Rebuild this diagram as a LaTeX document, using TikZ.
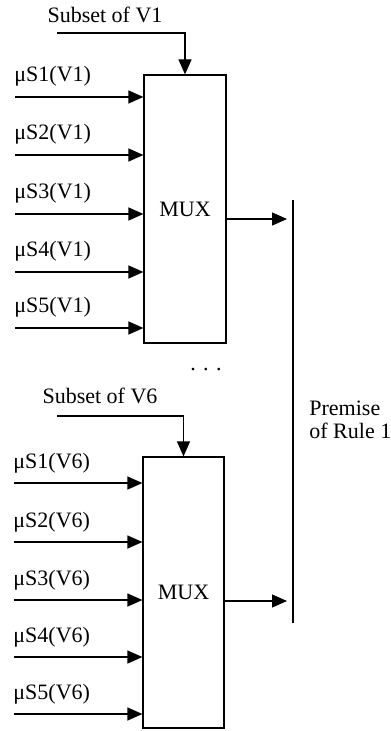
\documentclass[tikz,border=0pt]{standalone}
\usepackage{fontspec}
\setmainfont{Liberation Serif}
\usepackage{tikz}
\usetikzlibrary{arrows.meta,positioning}
\tikzset{
  muxbox/.style={draw,line width=0.6pt,inner sep=0pt,font=\fontsize{11}{11.5}\selectfont},
  lbl/.style={anchor=base west,inner sep=0pt,font=\fontsize{11}{11.5}\selectfont},
  ar/.style={-{Triangle[length=7.5pt,width=6.5pt]},line width=0.6pt},
}

\begin{document}
\begin{tikzpicture}[x=0.5pt,y=-0.5pt]
  \useasboundingbox (0,0) rectangle (390,731);
  % multiplexers
  \node[muxbox,minimum width=41pt,minimum height=134pt] (mux1) at (185,209) {MUX};
  \node[muxbox,minimum width=40.5pt,minimum height=135.5pt] (mux6) at (183.5,592.5) {MUX};
  % inputs of V1
  \foreach \i/\y in {1/97,2/155,3/214,4/272,5/328}{
    \node[lbl] (a\i) at (14,\y-15) {μS\i(V1)};
    \coordinate (p\i) at (15,\y);
    \draw[ar] (p\i) -- (mux1.west |- p\i);
  }
  % inputs of V6
  \foreach \i/\y in {1/483,2/542,3/600,4/657,5/714}{
    \node[lbl] (b\i) at (13,\y-15) {μS\i(V6)};
    \coordinate (q\i) at (14,\y);
    \draw[ar] (q\i) -- (mux6.west |- q\i);
  }
  % select lines
  \node[lbl,anchor=base] (sel1) at (105,23) {Subset of V1};
  \coordinate (s1) at (57,33);
  \draw[ar] (s1) -| (mux1.north);
  \node[lbl,anchor=base] (sel6) at (100,403) {Subset of V6};
  \coordinate (s6) at (57,416);
  \draw[ar] (s6) -| (mux6.north);
  \node[lbl,anchor=base] (dots) at (206,370) {.\,\,.\,\,.};
  % premise bar
  \coordinate (bt) at (293,200);
  \coordinate (bb) at (293,623);
  \draw[line width=0.6pt] (bt) -- (bb);
  \coordinate (o1) at (287,219);
  \coordinate (o6) at (287,601);
  \draw[ar] (mux1.east |- o1) -- (o1);
  \draw[ar] (mux6.east |- o6) -- (o6);
  \node[lbl,anchor=north west,align=left] (prem) at (309,401) {Premise\\of Rule 1};
\end{tikzpicture}
\end{document}
